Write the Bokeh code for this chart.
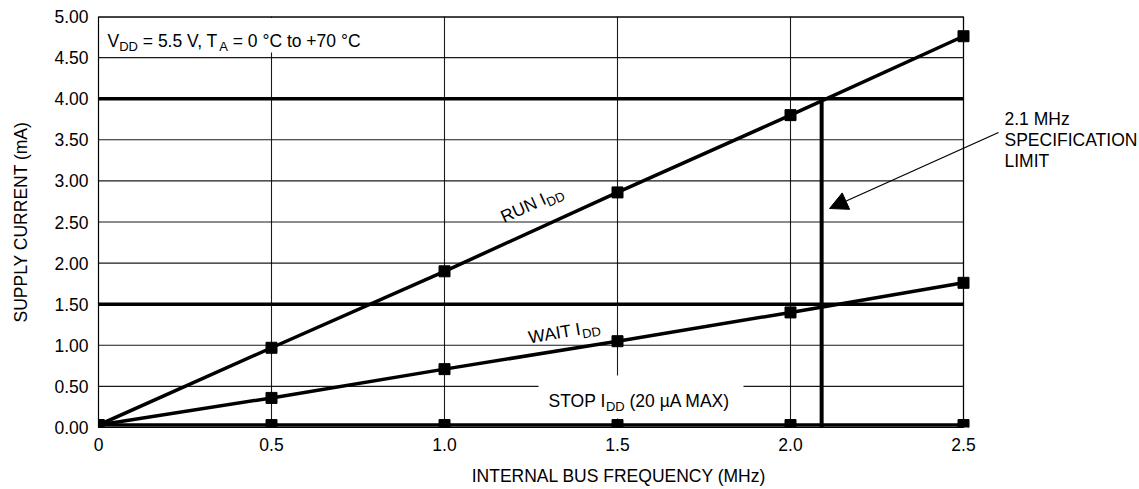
import math
from bokeh.plotting import figure
from bokeh.models import FixedTicker, NumeralTickFormatter, Label, Arrow, NormalHead
from bokeh.embed import file_html
from bokeh.resources import INLINE

# ---------------- data ----------------
freq_mhz = [0.0, 0.5, 1.0, 1.5, 2.0, 2.5]
run_idd_ma = [0.03, 0.97, 1.90, 2.86, 3.80, 4.76]
wait_idd_ma = [0.03, 0.36, 0.71, 1.05, 1.40, 1.76]
stop_idd_ma = [0.03, 0.03, 0.03, 0.03, 0.03, 0.03]

x_ticks = [0.0, 0.5, 1.0, 1.5, 2.0, 2.5]
x_tick_labels = ["0", "0.5", "1.0", "1.5", "2.0", "2.5"]
y_ticks = [0.0, 0.5, 1.0, 1.5, 2.0, 2.5, 3.0, 3.5, 4.0, 4.5, 5.0]

run_limit_ma = 4.0
wait_limit_ma = 1.5
spec_limit_mhz = 2.09

# ---------------- layout ----------------
FONT = "Liberation Sans"
FS = 17.5
SUB = 13
W, H = 1139, 489
BL, BR, BT, BB = 98, 0, 16, 62
PLOT_W = 865                      # pixel width of the 0 .. 2.5 MHz plot box
XA, XB, Y0, Y1 = 0.0, 2.5, 0.0, 5.0
FW, FH = W - BL - BR, H - BT - BB
PX_X = PLOT_W / (XB - XA)
PX_Y = FH / (Y1 - Y0)
X1 = XA + FW / PX_X               # frame extends right so side notes are not clipped


def at(px, py):
    """picture pixel -> data coordinates"""
    return XA + (px - BL) / PX_X, Y0 + (BT + FH - py) / PX_Y


ARIAL = {' ': 278, '=': 584, '.': 278, ',': 278, '+': 584, '°': 400, '(': 333, ')': 333,
         'µ': 576, '0': 556, '1': 556, '2': 556, '5': 556, '7': 556,
         'A': 667, 'C': 722, 'D': 722, 'I': 278, 'M': 833, 'N': 722, 'O': 778, 'P': 667,
         'R': 722, 'S': 667, 'T': 611, 'U': 722, 'V': 667, 'W': 944, 'X': 667,
         't': 278, 'o': 556}


def tw(s, fs):
    return sum(ARIAL.get(c, 556) for c in s) / 1000.0 * fs


p = figure(width=W, height=H, x_range=(XA, X1), y_range=(Y0, Y1),
           output_backend="svg", toolbar_location=None,
           min_border_left=BL, min_border_right=BR, min_border_top=BT, min_border_bottom=BB)
p.background_fill_color = "white"
p.border_fill_color = "white"
p.outline_line_color = None

p.xaxis.ticker = FixedTicker(ticks=x_ticks)
p.xaxis.major_label_overrides = {t: l for t, l in zip(x_ticks, x_tick_labels)}
p.xaxis.bounds = (XA, XB)
p.yaxis.ticker = FixedTicker(ticks=y_ticks)
p.yaxis.formatter = NumeralTickFormatter(format="0.00")
p.xgrid.ticker = FixedTicker(ticks=x_ticks)
p.xgrid.grid_line_color = "black"
p.xgrid.grid_line_width = 1.1
p.xgrid.grid_line_alpha = 0.9
p.ygrid.visible = False

for ax in (p.xaxis, p.yaxis):
    ax.axis_line_color = "black"
    ax.axis_line_width = 1.2
    ax.major_tick_out = 0
    ax.major_tick_in = 0
    ax.minor_tick_out = 0
    ax.minor_tick_in = 0
    ax.major_label_text_font = FONT
    ax.major_label_text_font_size = f"{FS}px"
    ax.major_label_text_color = "black"
    ax.axis_label_text_font = FONT
    ax.axis_label_text_font_size = f"{FS}px"
    ax.axis_label_text_font_style = "normal"
    ax.axis_label_text_color = "black"
p.xaxis.axis_label = "INTERNAL BUS FREQUENCY (MHz)"
p.yaxis.axis_label = "SUPPLY CURRENT (mA)"
p.xaxis.major_label_standoff = 10
p.xaxis.axis_label_standoff = 12
p.yaxis.major_label_standoff = 10
p.yaxis.axis_label_standoff = 20

# horizontal grid lines, limited to the 0 .. 2.5 MHz plot box
p.segment(x0=[XA] * len(y_ticks), y0=y_ticks, x1=[XB] * len(y_ticks), y1=y_ticks,
          line_color="black", line_width=1.1, line_alpha=0.9)

# plot box top and right edges
p.segment(x0=[XA, XB], y0=[Y1, Y0], x1=[XB, XB], y1=[Y1, Y1], line_color="black", line_width=[2.4, 1.2])

# white boxes behind the in-frame annotations (interrupt the grid)
bx0, by0 = at(99, 52)
bx1, by1 = at(375, 17.5)
p.quad(left=bx0, right=bx1, bottom=by0, top=by1, fill_color="white", line_color=None)
sx0, sy0 = at(538, 418)
sx1, sy1 = at(743, 375)
p.quad(left=sx0, right=sx1, bottom=sy0, top=sy1, fill_color="white", line_color=None)

# limit lines
p.segment(x0=[XA, XA], y0=[run_limit_ma, wait_limit_ma], x1=[XB, XB], y1=[run_limit_ma, wait_limit_ma],
          line_color="black", line_width=3.5)
p.segment(x0=[spec_limit_mhz], y0=[Y0], x1=[spec_limit_mhz], y1=[run_limit_ma],
          line_color="black", line_width=4)

# series
for ys in (run_idd_ma, wait_idd_ma, stop_idd_ma):
    p.line(freq_mhz, ys, line_color="black", line_width=3.5)
    p.scatter(freq_mhz, ys, marker="square", size=11, fill_color="black", line_color="black")


def label(text, px, py, fs=FS, angle=0.0, align="left"):
    x, y = at(px, py)
    p.add_layout(Label(x=x, y=y, text=text, angle=angle, angle_units="rad",
                       text_font=FONT, text_font_size=f"{fs}px", text_color="black",
                       text_align=align, text_baseline="alphabetic"))


def seq(pieces, px, py, deg=0.0, fs=FS, sub_fs=SUB, drop=5.5):
    a = math.radians(deg)
    ux, uy = math.cos(a), -math.sin(a)
    nx, ny = math.sin(a), math.cos(a)
    adv = 0.0
    for text, sub in pieces:
        f = sub_fs if sub else fs
        lead = len(text) - len(text.lstrip(' '))
        adv += lead * 0.278 * f
        t = text.strip(' ')
        d = drop if sub else 0.0
        label(t, px + adv * ux + d * nx, py + adv * uy + d * ny, f, a)
        adv += tw(t, f)
        trail = len(text) - len(text.rstrip(' '))
        adv += trail * 0.278 * f


seq([("V", False), ("DD", True), (" = 5.5 V, T", False), ("A", True), (" = 0 °C to +70 °C", False)],
    107, 40.5)
seq([("RUN I", False), ("DD", True)], 501, 217, deg=24.3)
seq([("WAIT I", False), ("DD", True)], 528, 337, deg=9.6)
seq([("STOP I", False), ("DD", True), (" (20 µA MAX)", False)], 548, 400)

label("2.1 MHz", 1004, 118)
label("SPECIFICATION", 1004, 139)
label("LIMIT", 1004, 160)

ax0, ay0 = at(998, 132)
ax1, ay1 = at(829, 208)
p.add_layout(Arrow(x_start=ax0, y_start=ay0, x_end=ax1, y_end=ay1, line_color="black", line_width=1.3,
                   end=NormalHead(size=18, fill_color="black", line_color="black", line_width=1)))

open("out.html", "w").write(file_html(p, INLINE))
